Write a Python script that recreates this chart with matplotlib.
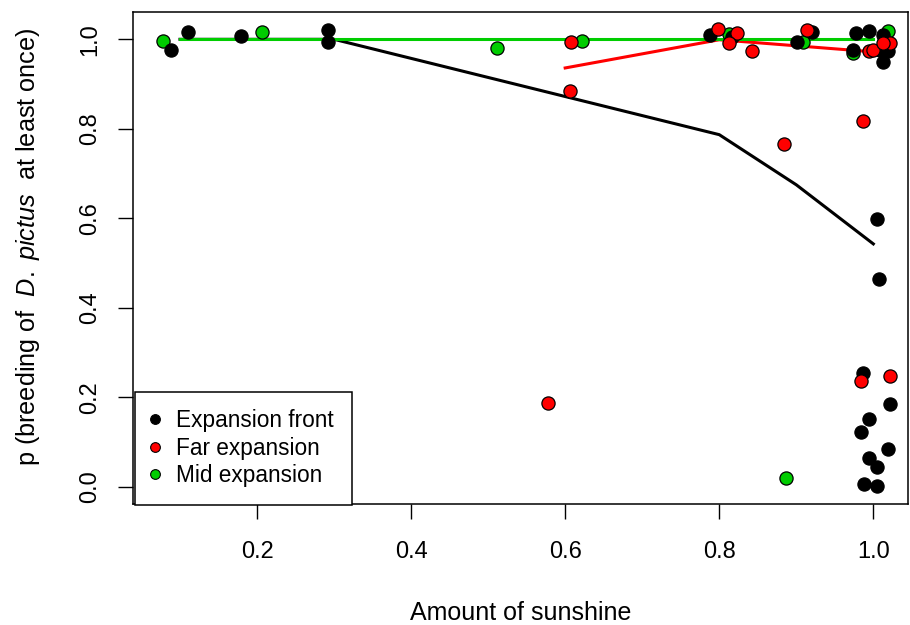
import matplotlib
matplotlib.use("Agg")
import matplotlib.pyplot as plt
from matplotlib.lines import Line2D

plt.rcParams['font.family'] = ['Liberation Sans', 'DejaVu Sans']
plt.rcParams['mathtext.fontset'] = 'custom'
plt.rcParams['mathtext.rm'] = 'Liberation Sans'
plt.rcParams['mathtext.it'] = 'Liberation Sans:italic'

# ---- data ----
front_x = [0.088, 0.110, 0.179, 0.292, 0.292, 0.788, 0.816, 0.901, 0.921,
           0.977, 0.995, 1.013, 0.974, 1.009, 1.019, 1.013,
           1.005, 1.008,
           0.987, 1.021, 0.994, 0.984, 1.019, 0.994, 1.005, 0.988, 1.005]
front_y = [0.977, 1.017, 1.008, 1.021, 0.994, 1.010, 1.006, 0.994, 1.017,
           1.015, 1.019, 1.010, 0.977, 0.977, 0.974, 0.950,
           0.599, 0.465,
           0.255, 0.185, 0.152, 0.123, 0.085, 0.065, 0.045, 0.007, 0.002]

far_x = [0.578, 0.608, 0.606, 0.799, 0.823, 0.813, 0.843, 0.914, 0.884, 0.987,
         0.994, 0.999, 1.022, 1.012, 0.984, 1.021]
far_y = [0.188, 0.994, 0.885, 1.023, 1.015, 0.992, 0.974, 1.021, 0.766, 0.818,
         0.974, 0.977, 0.992, 0.992, 0.237, 0.248]

mid_x = [0.078, 0.206, 0.512, 0.622, 0.812, 0.909, 0.886, 0.973, 1.019]
mid_y = [0.997, 1.017, 0.981, 0.997, 1.012, 0.994, 0.020, 0.970, 1.019]

front_line_x = [0.1, 0.3, 0.8, 0.9, 1.0]
front_line_y = [1.0, 1.0, 0.787, 0.675, 0.543]
far_line_x = [0.6, 0.8, 1.0]
far_line_y = [0.936, 0.999, 0.972]
mid_line_x = [0.1, 1.0]
mid_line_y = [1.0, 1.0]

labels = ["Expansion front", "Far expansion", "Mid expansion"]
colors = ["#000000", "#FF0000", "#00CD00"]

xticks = [0.2, 0.4, 0.6, 0.8, 1.0]
yticks = [0.0, 0.2, 0.4, 0.6, 0.8, 1.0]

# ---- figure ----
fig = plt.figure(figsize=(9.1, 6.25), dpi=100)
ax = fig.add_axes([133/910, (625-504)/625, 775/910, 492/625])

ms = 90
ax.scatter(mid_x, mid_y, s=ms, c=colors[2], edgecolors='black', linewidths=0.9, zorder=3)
ax.scatter(front_x, front_y, s=ms, c=colors[0], edgecolors='black', linewidths=0.9, zorder=3)
ax.scatter(far_x, far_y, s=ms, c=colors[1], edgecolors='black', linewidths=0.9, zorder=3)

ax.plot(front_line_x, front_line_y, color=colors[0], lw=2.2, zorder=2)
ax.plot(far_line_x, far_line_y, color=colors[1], lw=2.2, zorder=2)
ax.plot(mid_line_x, mid_line_y, color=colors[2], lw=2.2, zorder=2)

ax.set_xlim(0.039, 1.045)
ax.set_ylim(-0.038, 1.061)
ax.set_xticks(xticks)
ax.set_xticklabels([f"{v:.1f}" for v in xticks])
ax.set_yticks(yticks)
ax.set_yticklabels([f"{v:.1f}" for v in yticks])
ax.tick_params(axis='both', length=11, width=1, labelsize=17, direction='out')
ax.tick_params(axis='x', pad=16)
ax.tick_params(axis='y', pad=12)
for lab in ax.get_yticklabels():
    lab.set_rotation(90)
    lab.set_va('center')
for sp in ax.spines.values():
    sp.set_linewidth(1.1)

ax.set_xlabel("Amount of sunshine", fontsize=18, va='center')
ax.xaxis.set_label_coords(0.5, (504-613)/492)
ax.set_ylabel(r"p (breeding of  $\mathit{D.\ pictus}$  at least once)", fontsize=18.2, va='center')
ax.yaxis.set_label_coords((28-133)/775, (504-247)/492)

handles = [Line2D([], [], marker='o', linestyle='none', markersize=7,
                  markerfacecolor=c, markeredgecolor='black', markeredgewidth=0.8)
           for c in colors]
leg = ax.legend(handles, labels, loc='lower left', bbox_to_anchor=(0.0026, -0.002),
                borderaxespad=0, fancybox=False, framealpha=1, edgecolor='black',
                fontsize=16.3, handletextpad=0.85, labelspacing=0.2, borderpad=0.78,
                handlelength=0.2)
leg.get_frame().set_linewidth(1.1)

fig.savefig("out.png", dpi=100)
